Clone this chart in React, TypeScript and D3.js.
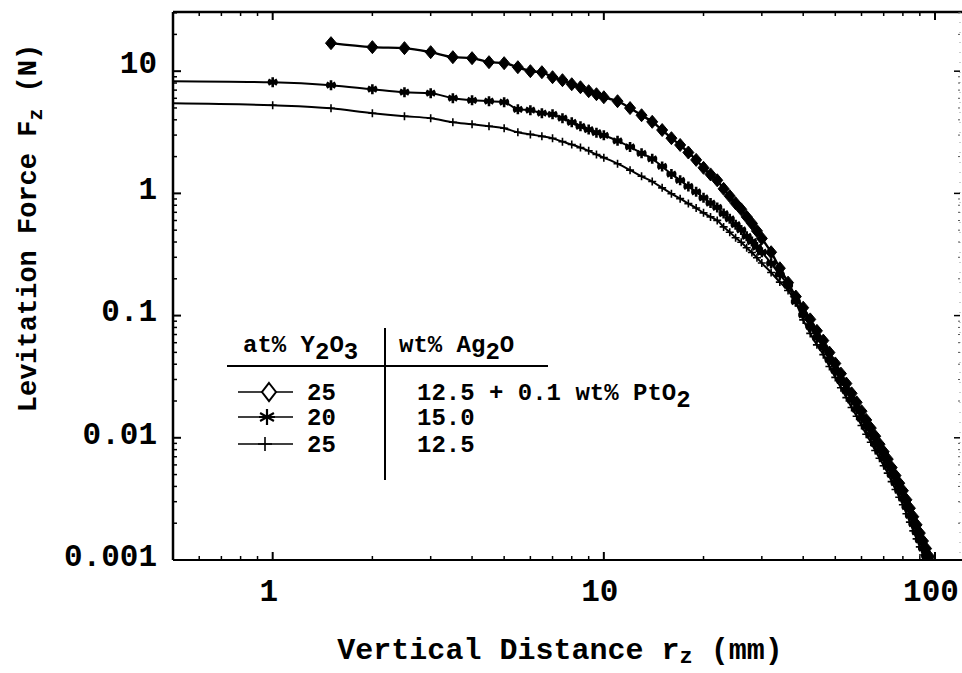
import React from 'react';
import * as d3 from 'd3';

// distance r_z (mm): 0.5 mm steps to 10, 1 mm to 30, 2 mm to 98
const distance = [
  0.5, 1, 1.5, 2, 2.5, 3, 3.5, 4, 4.5, 5, 5.5, 6, 6.5, 7, 7.5, 8, 8.5, 9, 9.5, 10,
  11, 12, 13, 14, 15, 16, 17, 18, 19, 20, 21, 22, 23, 24, 25, 26, 27, 28, 29, 30,
  32, 34, 36, 38, 40, 42, 44, 46, 48, 50, 52, 54, 56, 58, 60, 62, 64, 66, 68, 70,
  72, 74, 76, 78, 80, 82, 84, 86, 88, 90, 92, 94, 96, 98,
];

// 25 at% Y2O3, 12.5 wt% Ag2O + 0.1 wt% PtO2 (diamonds)
const forceA = [
  null, null, 16.96, 15.73, 15.44, 14.31, 13.02, 12.78, 11.85, 11.63, 10.78, 10.0, 9.81, 8.93, 8.44, 7.82, 7.39, 6.86, 6.48, 6.12,
  5.68, 4.99, 4.36, 3.85, 3.3, 2.83, 2.49, 2.16, 1.88, 1.62, 1.43, 1.28, 1.09, 0.95, 0.83, 0.74, 0.643, 0.568, 0.493, 0.428,
  0.33, 0.244, 0.186, 0.143, 0.116, 0.0931, 0.075, 0.0624, 0.0498, 0.0406, 0.0335, 0.0278, 0.0231, 0.0195, 0.0165, 0.014, 0.012, 0.0103, 0.00886, 0.00769,
  0.00669, 0.00571, 0.00491, 0.00425, 0.00369, 0.00311, 0.00265, 0.00226, 0.00194, 0.00166, 0.00143, 0.00124, 0.00107, 0.00093,
];

// 20 at% Y2O3, 15.0 wt% Ag2O (asterisks)
const forceB = [
  8.28, 8.12, 7.68, 7.12, 6.73, 6.6, 6.01, 5.78, 5.68, 5.57, 4.88, 4.79, 4.53, 4.44, 4.12, 3.82, 3.54, 3.33, 3.14, 2.99,
  2.69, 2.4, 2.13, 1.92, 1.66, 1.44, 1.28, 1.14, 1.03, 0.92, 0.834, 0.768, 0.684, 0.62, 0.555, 0.502, 0.445, 0.403, 0.364, 0.33,
  0.268, 0.216, 0.1775, 0.13, 0.1013, 0.0816, 0.0658, 0.0547, 0.0437, 0.0356, 0.0293, 0.0243, 0.0203, 0.0171, 0.0144, 0.0123, 0.0105, 0.009, 0.00777, 0.00674,
  0.00586, 0.005, 0.0043, 0.00373, 0.00323, 0.00273, 0.00232, 0.00198, 0.0017, 0.00146, 0.00125, 0.00108, 0.00094,
];

// 25 at% Y2O3, 12.5 wt% Ag2O (pluses)
const forceC = [
  5.47, 5.26, 4.97, 4.53, 4.28, 4.12, 3.82, 3.68, 3.54, 3.41, 3.16, 3.04, 2.93, 2.82, 2.65, 2.51, 2.37, 2.23, 2.08, 1.96,
  1.75, 1.55, 1.38, 1.25, 1.11, 0.994, 0.906, 0.825, 0.759, 0.693, 0.642, 0.601, 0.532, 0.481, 0.434, 0.398, 0.359, 0.328, 0.297, 0.269,
  0.225, 0.188, 0.1606, 0.1278, 0.0922, 0.0715, 0.0576, 0.0479, 0.0383, 0.0312, 0.0257, 0.0213, 0.0177, 0.015, 0.0126, 0.0107, 0.0092, 0.00788, 0.0068, 0.00591,
  0.00514, 0.00438, 0.00377, 0.00326, 0.00283, 0.00239, 0.00204, 0.00173, 0.00149, 0.00128, 0.0011, 0.00095,
];

const xTickValues = [1, 10, 100];
const xTickLabels = ['1', '10', '100'];
const yTickValues = [0.001, 0.01, 0.1, 1, 10];
const yTickLabels = ['0.001', '0.01', '0.1', '1', '10'];

const legendY2O3 = ['25', '20', '25'];
const legendAg2O = ['12.5 + 0.1 wt% PtO', '15.0', '12.5'];

const W = 962;
const H = 673;
const font = "'Liberation Mono', 'Courier New', monospace";

const x = d3.scaleLog().domain([0.5, 119]).range([173, 960]);
const y = d3.scaleLog().domain([0.001, 30.5]).range([560, 12]);

const minor = (lo: number, hi: number) => {
  const out: number[] = [];
  for (let p = -4; p <= 2; p++) {
    for (let m = 2; m <= 9; m++) {
      const v = m * Math.pow(10, p);
      if (v > lo && v < hi) out.push(v);
    }
  }
  return out;
};

const diamond = (cx: number, cy: number, w: number, h: number) =>
  `M${cx},${cy - h}L${cx + w},${cy}L${cx},${cy + h}L${cx - w},${cy}Z`;

const star = (cx: number, cy: number, r: number) => {
  const a = (Math.PI / 180) * 30;
  const dx = r * Math.cos(a);
  const dy = r * Math.sin(a);
  return `M${cx},${cy - r}L${cx},${cy + r}M${cx - dx},${cy - dy}L${cx + dx},${cy + dy}M${cx - dx},${cy + dy}L${cx + dx},${cy - dy}M${cx - r},${cy}L${cx + r},${cy}`;
};

const plus = (cx: number, cy: number, r: number) =>
  `M${cx},${cy - r}L${cx},${cy + r}M${cx - r},${cy}L${cx + r},${cy}`;

type Pt = [number, number];
const pts = (vals: (number | null)[]): Pt[] =>
  vals
    .map((v, i) => (v == null || i >= distance.length ? null : ([distance[i], v] as Pt)))
    .filter((d): d is Pt => d != null);

const line = d3
  .line<Pt>()
  .curve(d3.curveMonotoneX)
  .x((d) => x(d[0]))
  .y((d) => y(d[1]));

export default function App() {
  const A = pts(forceA);
  const B = pts(forceB);
  const C = pts(forceC);
  const xMinor = minor(0.5, 119);
  const yMinor = minor(0.001, 30.5);
  const [x0, x1] = x.range();
  const [y0, y1] = y.range();
  const inside = (d: Pt) => d[0] > x.domain()[0];

  const legRows = [392, 417, 444];

  return (
    <svg
      width={W}
      height={H}
      style={{ position: 'absolute', left: 0, top: 0, background: '#fff' }}
      fontFamily={font}
      fontWeight="bold"
    >
      <defs>
        <clipPath id="plot">
          <rect x={x0} y={y1} width={x1 - x0} height={y0 - y1} />
        </clipPath>
      </defs>

      {/* frame */}
      <line x1={x0} x2={W} y1={y1} y2={y1} stroke="#000" strokeWidth={2.5} />
      <line x1={x0} x2={W} y1={y0} y2={y0} stroke="#000" strokeWidth={2} />
      <line x1={x0} x2={x0} y1={y1} y2={y0} stroke="#000" strokeWidth={2.5} />
      <line x1={x1} x2={x1} y1={y1} y2={y0} stroke="#999" strokeWidth={1} strokeDasharray="1 9" />

      {/* x ticks, bottom and top */}
      {xTickValues.map((v) => (
        <g key={'xt' + v}>
          <line x1={x(v)} x2={x(v)} y1={y0} y2={y0 - 8} stroke="#000" strokeWidth={2} />
          <line x1={x(v)} x2={x(v)} y1={y1} y2={y1 + 8} stroke="#000" strokeWidth={2} />
        </g>
      ))}
      {xMinor.map((v) => (
        <g key={'xm' + v}>
          <line x1={x(v)} x2={x(v)} y1={y0} y2={y0 - 4} stroke="#000" strokeWidth={1.5} />
          <line x1={x(v)} x2={x(v)} y1={y1} y2={y1 + 4} stroke="#000" strokeWidth={1.5} />
        </g>
      ))}
      {/* y ticks, left and right */}
      {yTickValues.map((v) => (
        <g key={'yt' + v}>
          <line x1={x0} x2={x0 + 8} y1={y(v)} y2={y(v)} stroke="#000" strokeWidth={2} />
          <line x1={x1} x2={x1 - 6} y1={y(v)} y2={y(v)} stroke="#000" strokeWidth={1.5} />
        </g>
      ))}
      {yMinor.map((v) => (
        <g key={'ym' + v}>
          <line x1={x0} x2={x0 + 4} y1={y(v)} y2={y(v)} stroke="#000" strokeWidth={1.5} />
          <line x1={x1} x2={x1 - 2} y1={y(v)} y2={y(v)} stroke="#555" strokeWidth={1} />
        </g>
      ))}

      {/* tick labels */}
      {xTickValues.map((v, i) => (
        <text key={'xl' + v} x={x(v) - 4} y={601} fontSize={31} textAnchor="middle">
          {xTickLabels[i]}
        </text>
      ))}
      {yTickValues.map((v, i) => (
        <text key={'yl' + v} x={157} y={y(v) - (v === 10 ? 9 : 5)} dy="0.35em" fontSize={31} textAnchor="end">
          {yTickLabels[i]}
        </text>
      ))}

      {/* axis titles */}
      <text x={560} y={659} fontSize={30} textAnchor="middle">
        Vertical Distance r<tspan dy={4} fontSize={22}>z</tspan>
        <tspan dy={-4}> (mm)</tspan>
      </text>
      <text transform="translate(36,228) rotate(-90)" fontSize={27} textAnchor="middle">
        Levitation Force F<tspan dy={6} fontSize={20}>z</tspan>
        <tspan dy={-6}> (N)</tspan>
      </text>

      {/* curves */}
      <g clipPath="url(#plot)" fill="none" stroke="#000" strokeWidth={2}>
        <path d={line(C) || ''} />
        <path d={line(B) || ''} />
        <path d={line(A) || ''} strokeWidth={2.4} />
        {C.filter(inside).map((d, i) => (
          <path key={'c' + i} d={plus(x(d[0]), y(d[1]), 4)} strokeWidth={1.6} />
        ))}
        {B.filter(inside).map((d, i) => (
          <path key={'b' + i} d={star(x(d[0]), y(d[1]), 5)} strokeWidth={2.6} />
        ))}
        {A.filter(inside).map((d, i) => (
          <path key={'a' + i} d={diamond(x(d[0]), y(d[1]), 5.5, 6.5)} fill="#000" strokeWidth={1} />
        ))}
      </g>

      {/* legend table */}
      <g fontSize={24}>
        <text x={243} y={352}>
          at% Y<tspan dy={7}>2</tspan>
          <tspan dy={-7}>O</tspan>
          <tspan dy={7}>3</tspan>
        </text>
        <text x={399} y={352}>
          wt% Ag<tspan dy={7}>2</tspan>
          <tspan dy={-7}>O</tspan>
        </text>
        <line x1={227} x2={548} y1={366} y2={366} stroke="#000" strokeWidth={2} />
        <line x1={385} x2={385} y1={328} y2={480} stroke="#000" strokeWidth={2} />
        {legRows.map((ly, i) => (
          <g key={'lg' + i}>
            <line x1={238} x2={293} y1={ly} y2={ly} stroke="#000" strokeWidth={1.6} />
            <text x={307} y={ly + 8}>
              {legendY2O3[i]}
            </text>
            <text x={417} y={ly + 8}>
              {legendAg2O[i]}
              {i === 0 ? <tspan dy={7}>2</tspan> : null}
            </text>
          </g>
        ))}
        <path d={diamond(269, legRows[0], 7, 9)} fill="#fff" stroke="#000" strokeWidth={2} />
        <path d={star(267, legRows[1], 8)} fill="none" stroke="#000" strokeWidth={2.2} />
        <path d={plus(265, legRows[2], 7)} fill="none" stroke="#000" strokeWidth={1.6} />
      </g>
    </svg>
  );
}
